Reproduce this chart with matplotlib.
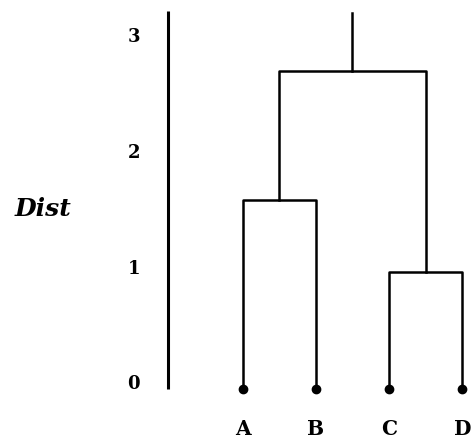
import numpy as np
import matplotlib
matplotlib.use("Agg")
import matplotlib.pyplot as plt

# leaves and merge heights of the dendrogram
leaves = ['A', 'B', 'C', 'D']
ab_height = 1.63
cd_height = 1.01
root_height = 2.75
root_top = 3.25
dist_ticks = [0, 1, 2, 3]

fig = plt.figure(figsize=(4.72, 4.41), dpi=100)
ax = fig.add_axes([0, 0, 1, 1])
ax.set_xlim(-3.316, 3.133)
ax.set_ylim(-0.444, 3.358)
ax.axis('off')

lc = 'black'
lw = 1.8
X = np.arange(len(leaves))

# A-B cluster
ab_x = X[:2].mean()
ax.plot([X[0], X[0], X[1], X[1]], [0, ab_height, ab_height, 0], color=lc, lw=lw)
# C-D cluster
cd_x = X[2:].mean()
ax.plot([X[2], X[2], X[3], X[3]], [0, cd_height, cd_height, 0], color=lc, lw=lw)
# root
root_x = (ab_x + cd_x) / 2
ax.plot([ab_x, ab_x, cd_x, cd_x], [ab_height, root_height, root_height, cd_height], color=lc, lw=lw)
ax.plot([root_x, root_x], [root_height, root_top], color=lc, lw=lw)

# leaf dots and labels
ax.scatter(X, np.zeros(len(X)), s=36, color=lc, zorder=5)
for x, name in zip(X, leaves):
    ax.text(x, -0.392, name, ha='center', va='baseline', fontsize=14.5,
            family='DejaVu Serif', weight='bold')

# distance axis
axis_x = -1.02
ax.plot([axis_x, axis_x], [0, 3.26], color=lc, lw=2.2, solid_capstyle='butt')
for t in dist_ticks:
    ax.text(-1.49, t, '%d' % t, ha='center', va='baseline', fontsize=13,
            family='DejaVu Serif', weight='bold')

ax.text(-2.735, 1.50, 'Dist', ha='center', va='baseline', fontsize=18,
        family='DejaVu Serif', weight='bold', style='italic')

plt.savefig('out.png', dpi=100)
